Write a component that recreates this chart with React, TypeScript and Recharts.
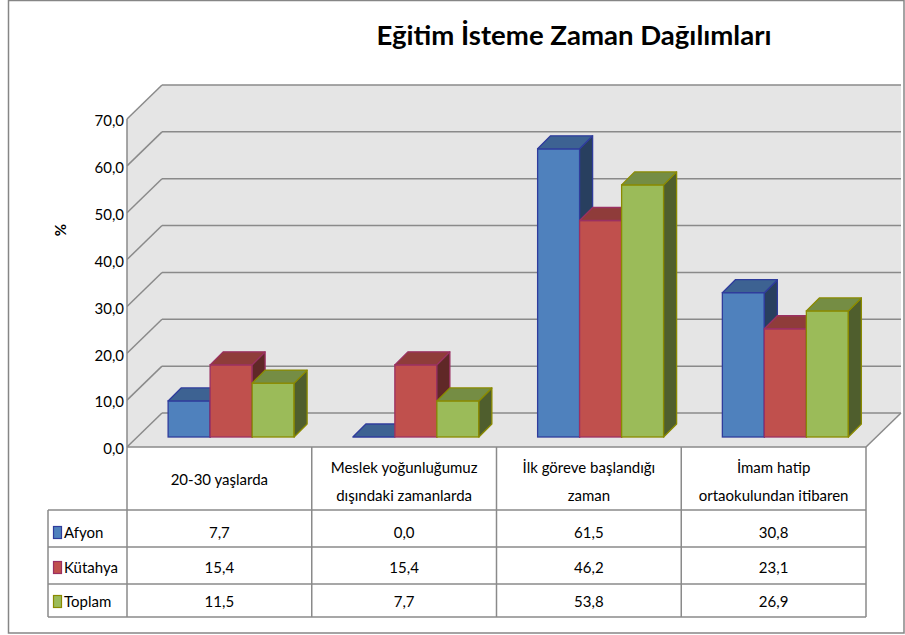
import React from 'react';
import { BarChart, Bar, XAxis, YAxis, CartesianGrid } from 'recharts';

// Eğitim İsteme Zaman Dağılımları — Excel-style 3D clustered column with data table.

const CATEGORIES = [
  '20-30 yaşlarda',
  'Meslek yoğunluğumuz dışındaki zamanlarda',
  'İlk göreve başlandığı zaman',
  'İmam hatip ortaokulundan itibaren',
];
const CATEGORY_LINES: string[][] = [
  ['20-30 yaşlarda'],
  ['Meslek yoğunluğumuz', 'dışındaki zamanlarda'],
  ['İlk göreve başlandığı', 'zaman'],
  ['İmam hatip', 'ortaokulundan itibaren'],
];
const AFYON = [7.7, 0.0, 61.5, 30.8];
const KUTAHYA = [15.4, 15.4, 46.2, 23.1];
const TOPLAM = [11.5, 7.7, 53.8, 26.9];
const Y_TICKS = [0, 10, 20, 30, 40, 50, 60, 70];

const TITLE = 'Eğitim İsteme Zaman Dağılımları';
const Y_LABEL = '%';

const SERIES = [
  { key: 'afyon', name: 'Afyon', values: AFYON, front: '#4f81bd', top: '#3d6292', side: '#283f5f', stroke: '#2f3c9c' },
  { key: 'kutahya', name: 'Kütahya', values: KUTAHYA, front: '#c0504d', top: '#8f3c3a', side: '#602827', stroke: '#9b3062' },
  { key: 'toplam', name: 'Toplam', values: TOPLAM, front: '#9bbb59', top: '#758d44', side: '#4f5e2d', stroke: '#8a8a00' },
];

const data = CATEGORIES.map((cat, i) => ({
  cat,
  afyon: AFYON[i],
  kutahya: KUTAHYA[i],
  toplam: TOPLAM[i],
}));

// layout
const W = 905;
const H = 635;
const PL = 127;
const PR = 866;
const PT = 119;
const PB = 447;
const DX = 35; // wall depth
const DY = 34;
const BAR_DX = 11; // bars sit a little back from the front plane
const BAR_DY = 10;
const BAR_D = 13; // bar depth
const YAXIS_W = 40;
const XAXIS_H = 63;
const LEG_LEFT = 48;
const ROW_LINES = [510, 547, 584, 617];
const ROW_BASE = [538, 573, 607];
const GRID = '#8a8a8a';
const WALL = '#e5e5e5';
const FONT = 'Lato, "Open Sans", sans-serif';

const fmt = (v: number) => v.toFixed(1).replace('.', ',');

function Box3D(props: any) {
  const { x, y, width, height, front, top, side, stroke } = props;
  if (x == null || y == null || width == null) return null;
  const h = Math.max(0, height || 0);
  const bx = x + BAR_DX;
  const by = y - BAR_DY;
  const d = BAR_D;
  const topPts = `${bx},${by} ${bx + d},${by - d} ${bx + width + d},${by - d} ${bx + width},${by}`;
  const sidePts = `${bx + width},${by} ${bx + width + d},${by - d} ${bx + width + d},${by + h - d} ${bx + width},${by + h}`;
  return (
    <g>
      {h > 0 && <rect x={bx} y={by} width={width} height={h} fill={front} stroke={stroke} strokeWidth={1.3} />}
      {h > 0 && <polygon points={sidePts} fill={side} stroke={stroke} strokeWidth={1.3} strokeLinejoin="round" />}
      <polygon points={topPts} fill={top} stroke={stroke} strokeWidth={1.3} strokeLinejoin="round" />
    </g>
  );
}

// grid line on the front plane -> diagonal on the side wall + line on the back wall
function WallLine(props: any) {
  const { x1, y1, x2 } = props;
  if (y1 == null) return null;
  return (
    <g key={props.key}>
      <line x1={x1} y1={y1} x2={x1 + DX} y2={y1 - DY} stroke={GRID} strokeWidth={1.5} />
      <line x1={x1 + DX} y1={y1 - DY} x2={x2 + DX} y2={y1 - DY} stroke={GRID} strokeWidth={1.5} />
    </g>
  );
}

function YTick(props: any) {
  const { y, payload } = props;
  return (
    <text x={PL - 3} y={y + 2} dy="0.35em" textAnchor="end" fontFamily={FONT} fontSize={15} fill="#000">
      {fmt(payload.value)}
    </text>
  );
}

function HeaderTick(props: any) {
  const { x, payload } = props;
  const idx = CATEGORIES.indexOf(payload.value);
  const lines = CATEGORY_LINES[idx] || [payload.value];
  const base = lines.length === 1 ? PB + 38 : PB + 26;
  return (
    <g>
      {lines.map((t, i) => (
        <text key={i} x={x} y={base + i * 28} textAnchor="middle" fontFamily={FONT} fontSize={15} fill="#000">
          {t}
        </text>
      ))}
    </g>
  );
}

export default function App() {
  const colW = (PR - PL) / CATEGORIES.length;
  const wall = `${PL},${PB} ${PL},${PT} ${PL + DX},${PT - DY} ${PR + DX},${PT - DY} ${PR + DX},${PB - DY} ${PR},${PB}`;

  return (
    <div style={{ position: 'absolute', left: 0, top: 0, width: W, height: H, background: '#fff' }}>
      {/* walls, frame, title */}
      <svg width={W} height={H} style={{ position: 'absolute', left: 0, top: 0 }}>
        <rect x={8.5} y={0.5} width={W - 9.5} height={632.5} fill="#fff" stroke="#868686" strokeWidth={1.5} />
        <polygon points={wall} fill={WALL} />
        <line x1={PR} y1={PB} x2={PR + DX} y2={PB - DY} stroke={GRID} strokeWidth={1.5} />
        <text
          x={574}
          y={45}
          textAnchor="middle"
          fontFamily={FONT}
          fontWeight="bold"
          fontSize={27}
          textLength={395}
          lengthAdjust="spacingAndGlyphs"
          fill="#000"
        >
          {TITLE}
        </text>
        <text
          x={61}
          y={230}
          transform="rotate(-90 61 230)"
          textAnchor="middle"
          dy="0.35em"
          fontFamily={FONT}
          fontWeight="bold"
          fontSize={15}
          fill="#000"
        >
          {Y_LABEL}
        </text>
      </svg>

      <div style={{ position: 'absolute', left: 0, top: 0 }}>
        <BarChart
          width={W}
          height={H}
          data={data}
          margin={{ top: PT, right: W - PR, bottom: H - PB - XAXIS_H, left: PL - YAXIS_W }}
          barCategoryGap="16.3%"
          barGap={0}
        >
          <CartesianGrid vertical={false} horizontal={(p: any) => <WallLine {...p} />} />
          <XAxis
            dataKey="cat"
            height={XAXIS_H}
            axisLine={{ stroke: GRID, strokeWidth: 1.5 }}
            tickLine={false}
            interval={0}
            tick={<HeaderTick />}
          />
          <YAxis
            width={YAXIS_W}
            domain={[0, 70]}
            ticks={Y_TICKS}
            interval={0}
            axisLine={{ stroke: GRID, strokeWidth: 1.5 }}
            tickLine={false}
            tick={<YTick />}
          />
          {SERIES.map((s) => (
            <Bar
              key={s.key}
              dataKey={s.key}
              name={s.name}
              fill={s.front}
              isAnimationActive={false}
              shape={(p: any) => <Box3D {...p} front={s.front} top={s.top} side={s.side} stroke={s.stroke} />}
            />
          ))}
        </BarChart>
      </div>

      {/* data table */}
      <svg width={W} height={H} style={{ position: 'absolute', left: 0, top: 0, pointerEvents: 'none' }}>
        <g stroke={GRID} strokeWidth={1.5}>
          <line x1={PL} y1={PB} x2={PL} y2={ROW_LINES[3]} />
          {CATEGORIES.map((_, i) => (
            <line key={i} x1={PL + colW * (i + 1)} y1={PB} x2={PL + colW * (i + 1)} y2={ROW_LINES[3]} />
          ))}
          <line x1={LEG_LEFT} y1={ROW_LINES[0]} x2={LEG_LEFT} y2={ROW_LINES[3]} />
          {ROW_LINES.map((y, i) => (
            <line key={i} x1={LEG_LEFT} y1={y} x2={PR} y2={y} />
          ))}
        </g>
        {SERIES.map((s, r) => (
          <g key={s.key}>
            <rect x={53.5} y={ROW_BASE[r] - 11.5} width={8} height={12} fill={s.front} stroke={s.stroke} strokeWidth={1.2} />
            <text x={64} y={ROW_BASE[r]} fontFamily={FONT} fontSize={15} fill="#000">
              {s.name}
            </text>
            {s.values.map((v, i) => (
              <text
                key={i}
                x={PL + colW * (i + 0.5)}
                y={ROW_BASE[r]}
                textAnchor="middle"
                fontFamily={FONT}
                fontSize={15}
                fill="#000"
              >
                {fmt(v)}
              </text>
            ))}
          </g>
        ))}
      </svg>
    </div>
  );
}
